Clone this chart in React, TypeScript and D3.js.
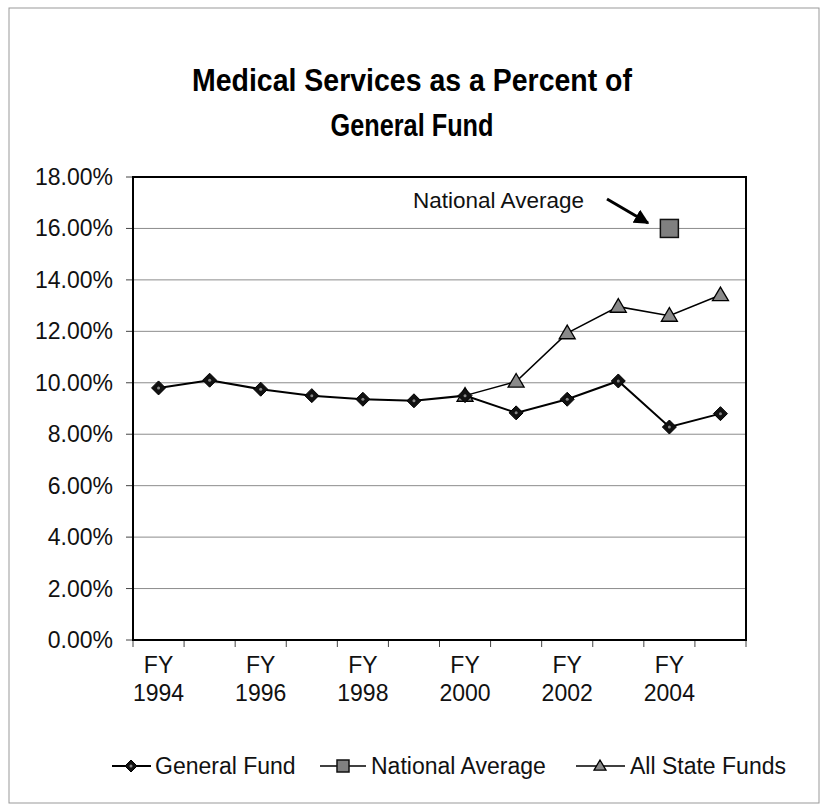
import React from "react";
import * as d3 from "d3";

const years = ["1994","1995","1996","1997","1998","1999","2000","2001","2002","2003","2004","2005"];
const generalFund = [9.8, 10.1, 9.75, 9.5, 9.36, 9.3, 9.5, 8.83, 9.36, 10.07, 8.28, 8.8];
const allStateFunds: (number | null)[] = [null, null, null, null, null, null, 9.5, 10.05, 11.93, 12.96, 12.61, 13.41];
const nationalAverage: (number | null)[] = [null, null, null, null, null, null, null, null, null, null, 16.0, null];
const yTicks = [0, 2, 4, 6, 8, 10, 12, 14, 16, 18];
const titleLines = ["Medical Services as a Percent of", "General Fund"];

const W = 823, H = 804;
const left = 133, right = 746, top = 177, bottom = 640;
const FONT = "'Liberation Sans', Arial, sans-serif";
const FS = 23;

function Diamond({ x, y, s = 7 }: { x: number; y: number; s?: number }) {
  return (
    <g>
      <path d={`M${x},${y - s}L${x + s},${y}L${x},${y + s}L${x - s},${y}Z`} fill="#111" stroke="#000" strokeWidth={1} />
      <circle cx={x} cy={y} r={1.5} fill="#888" />
    </g>
  );
}
function Tri({ x, y, s = 8 }: { x: number; y: number; s?: number }) {
  return <path d={`M${x},${y - s}L${x + s},${y + s * 0.7}L${x - s},${y + s * 0.7}Z`} fill="#8a8a8a" stroke="#000" strokeWidth={1.3} />;
}
function Sq({ x, y, s = 8 }: { x: number; y: number; s?: number }) {
  return <rect x={x - s} y={y - s} width={2 * s} height={2 * s} fill="#808080" stroke="#111" strokeWidth={1.5} />;
}

export default function App() {
  const x = d3.scaleBand<string>().domain(years).range([left, right]);
  const y = d3.scaleLinear().domain([0, 18]).range([bottom, top]);
  const cx = (yr: string) => (x(yr) as number) + x.bandwidth() / 2;

  const line = d3.line<[string, number | null]>()
    .defined(d => d[1] != null)
    .x(d => cx(d[0]))
    .y(d => y(d[1] as number));

  const gfData = years.map((yr, i) => [yr, generalFund[i]] as [string, number | null]);
  const asData = years.map((yr, i) => [yr, allStateFunds[i]] as [string, number | null]);
  const naData = years.map((yr, i) => [yr, nationalAverage[i]] as [string, number | null]);

  const boundaries = years.map(yr => x(yr) as number).concat([right]);

  return (
    <svg width={W} height={H} style={{ position: "absolute", left: 0, top: 0, background: "#fff" }} fontFamily={FONT}>
      <rect x={9} y={8} width={810} height={795} fill="#fff" stroke="#999" strokeWidth={1} />
      {/* Title */}
      <text x={412} y={91} textAnchor="middle" fontSize={32} fontWeight="bold" textLength={440} lengthAdjust="spacingAndGlyphs">{titleLines[0]}</text>
      <text x={412} y={136} textAnchor="middle" fontSize={32} fontWeight="bold" textLength={163} lengthAdjust="spacingAndGlyphs">{titleLines[1]}</text>

      {/* gridlines */}
      {yTicks.filter(t => t > 0 && t < 18).map(t => (
        <line key={t} x1={left} x2={right} y1={y(t)} y2={y(t)} stroke="#8c8c8c" strokeWidth={1} />
      ))}
      {/* y ticks and labels */}
      {yTicks.map(t => (
        <g key={"yt" + t}>
          <line x1={left - 7} x2={left} y1={y(t)} y2={y(t)} stroke="#444" strokeWidth={1} />
          <text x={113} y={y(t) + 8} textAnchor="end" fontSize={FS} fill="#111">{t.toFixed(2) + "%"}</text>
        </g>
      ))}
      {/* x ticks */}
      {boundaries.map((b, i) => (
        <line key={"xt" + i} x1={b} x2={b} y1={bottom} y2={bottom + 7} stroke="#444" strokeWidth={1} />
      ))}
      {years.map((yr, i) => i % 2 === 0 ? (
        <g key={"xl" + yr}>
          <text x={cx(yr)} y={673} textAnchor="middle" fontSize={FS} fill="#111">FY</text>
          <text x={cx(yr)} y={701} textAnchor="middle" fontSize={FS} fill="#111">{yr}</text>
        </g>
      ) : null)}

      {/* plot frame */}
      <rect x={left} y={top} width={right - left} height={bottom - top} fill="none" stroke="#000" strokeWidth={2} />

      {/* lines */}
      <path d={line(gfData) || ""} fill="none" stroke="#000" strokeWidth={2} />
      <path d={line(asData) || ""} fill="none" stroke="#000" strokeWidth={1.5} />
      <path d={line(naData) || ""} fill="none" stroke="#000" strokeWidth={1.5} />

      {asData.filter(d => d[1] != null).map(d => <Tri key={"a" + d[0]} x={cx(d[0])} y={y(d[1] as number)} />)}
      {gfData.map(d => <Diamond key={"g" + d[0]} x={cx(d[0])} y={y(d[1] as number)} />)}
      {naData.filter(d => d[1] != null).map(d => <Sq key={"n" + d[0]} x={cx(d[0])} y={y(d[1] as number)} s={9} />)}

      {/* annotation */}
      <text x={413} y={208} fontSize={22.5} fill="#111">National Average</text>
      <defs>
        <marker id="ah" viewBox="0 0 10 10" refX={9} refY={5} markerWidth={5} markerHeight={5} orient="auto">
          <path d="M0,0L10,5L0,10Z" fill="#000" />
        </marker>
      </defs>
      <line x1={607} y1={199} x2={648} y2={223} stroke="#000" strokeWidth={3} markerEnd="url(#ah)" />

      {/* legend */}
      <g>
        <line x1={112} x2={151} y1={766} y2={766} stroke="#000" strokeWidth={2} />
        <Diamond x={131} y={766} s={6} />
        <text x={155} y={774} fontSize={FS} fill="#111">General Fund</text>
        <line x1={320} x2={366} y1={766} y2={766} stroke="#000" strokeWidth={1.5} />
        <Sq x={343} y={766} s={6} />
        <text x={371} y={774} fontSize={FS} fill="#111">National Average</text>
        <line x1={576} x2={625} y1={766} y2={766} stroke="#000" strokeWidth={1.5} />
        <Tri x={600} y={766} s={6} />
        <text x={630} y={774} fontSize={FS} fill="#111">All State Funds</text>
      </g>
    </svg>
  );
}
